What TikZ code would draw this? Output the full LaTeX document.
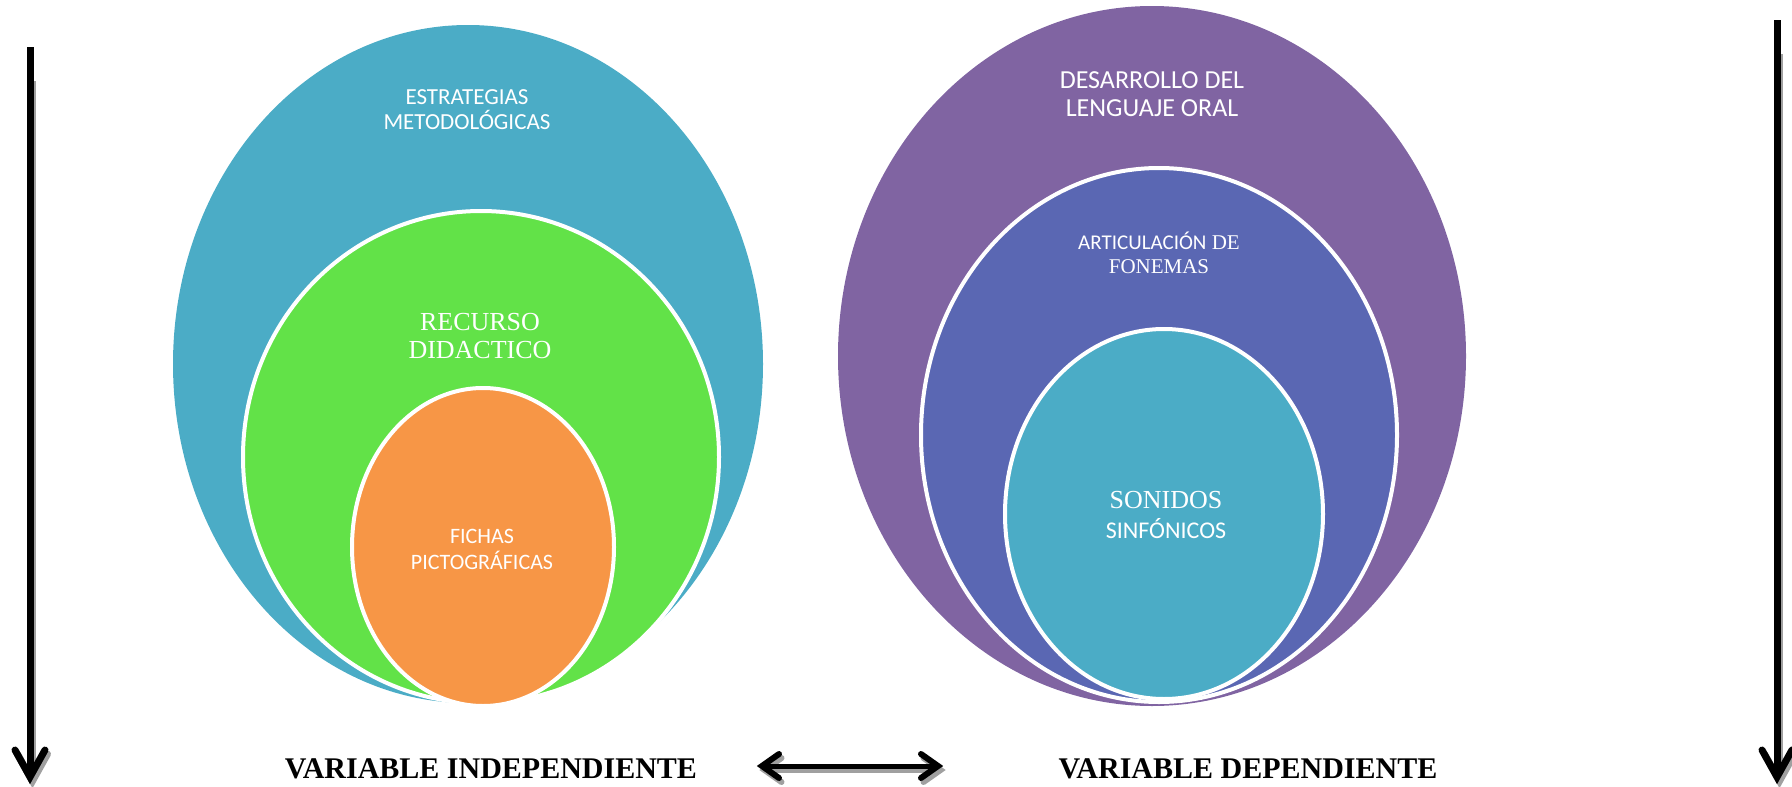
\documentclass[tikz,border=0pt]{standalone}
\usepackage{fontspec}
\setmainfont{Liberation Serif}
\newfontfamily\calib{Carlito}
\newfontfamily\tnr{Liberation Serif}
\usetikzlibrary{shapes.geometric,calc}
\definecolor{cBlue}{HTML}{4BACC6}
\definecolor{cGreen}{HTML}{62E248}
\definecolor{cOrange}{HTML}{F79646}
\definecolor{cPurple}{HTML}{8064A2}
\definecolor{cIndigo}{HTML}{5A67B3}
\definecolor{cShadow}{HTML}{A0A0A0}
\begin{document}
\begin{tikzpicture}[x=1pt,y=-1pt,
  outerblob/.style={ellipse, inner sep=0pt, draw=none},
  innerblob/.style={ellipse, inner sep=0pt, draw=white, line width=4pt},
  lbl/.style={text=white, align=center, inner sep=0pt},
  varlbl/.style={inner sep=0pt, font=\tnr\bfseries\fontsize{30}{32}\selectfont},
  shaft/.style={line width=7pt},
  head/.style={line width=7pt, line join=miter, line cap=round},
  dshaft/.style={line width=5pt},
  dhead/.style={line width=6pt, line join=miter, line cap=round}
]
\useasboundingbox (0,0) rectangle (1792,787);

% ---------- left group ----------
\node[outerblob, fill=cBlue, minimum width=590pt, minimum height=678pt] (em) at (468,364) {};
\node[innerblob, fill=cGreen, minimum width=476pt, minimum height=492pt] (rd) at (481,457) {};
\node[innerblob, fill=cOrange, minimum width=262pt, minimum height=318pt] (fp) at (483,547) {};

\node[lbl, font=\calib\fontsize{23}{25}\selectfont] (tem) at (467,110) {ESTRATEGIAS\\METODOLÓGICAS};
\node[lbl, font=\tnr\fontsize{26}{28}\selectfont] (trd) at (480,336) {RECURSO\\DIDACTICO};
\node[lbl, font=\calib\fontsize{22}{26}\selectfont] (tfp) at (482,549) {FICHAS\\PICTOGRÁFICAS};

% ---------- right group ----------
\node[outerblob, fill=cPurple, minimum width=628pt, minimum height=700pt] (dl) at (1152,356) {};
\node[innerblob, fill=cIndigo, minimum width=476pt, minimum height=534pt] (af) at (1159,435) {};
\node[innerblob, fill=cBlue, minimum width=318pt, minimum height=370pt] (ss) at (1164,514) {};

\node[lbl, font=\calib\fontsize{26}{28}\selectfont] (tdl) at (1152,94) {DESARROLLO DEL\\LENGUAJE ORAL};
\node[lbl, font=\fontsize{21}{24}\selectfont] (taf) at (1159,253) {{\calib ARTICULACIÓN} {\tnr DE}\\{\tnr FONEMAS}};
\node[lbl, font=\fontsize{26}{30}\selectfont] (tss) at (1166,515) {{\tnr SONIDOS}\\{\calib\fontsize{24}{30}\selectfont SINFÓNICOS}};

% ---------- bottom labels ----------
\node[varlbl] (vi) at (491,769) {VARIABLE INDEPENDIENTE};
\node[varlbl] (vd) at (1248,769) {VARIABLE DEPENDIENTE};

% ---------- arrows ----------
\coordinate (la1) at (30,47);
\coordinate (la2) at (30,777);
\coordinate (ra1) at (1777,20);
\coordinate (ra2) at (1777,777);
\coordinate (da1) at (762,766);
\coordinate (da2) at (938,766);

% shadows
\begin{scope}[transform canvas={xshift=2.5pt, yshift=-4pt}]
  \draw[shaft, cShadow] ($(la1)+(0,30)$) -- ($(la2)+(0,-4)$);
  \draw[head, cShadow] ($(la2)+(-15,-27)$) -- (la2) -- ($(la2)+(15,-27)$);
  \draw[shaft, cShadow] ($(ra1)+(0,30)$) -- ($(ra2)+(0,-4)$);
  \draw[head, cShadow] ($(ra2)+(-15,-27)$) -- (ra2) -- ($(ra2)+(15,-27)$);
  \draw[dshaft, cShadow] ($(da1)+(4,0)$) -- ($(da2)+(-4,0)$);
  \draw[dhead, cShadow] ($(da1)+(17,-12)$) -- (da1) -- ($(da1)+(17,12)$);
  \draw[dhead, cShadow] ($(da2)+(-17,-12)$) -- (da2) -- ($(da2)+(-17,12)$);
\end{scope}
% black arrows
\draw[shaft] (la1) -- ($(la2)+(0,-4)$);
\draw[head] ($(la2)+(-15,-27)$) -- (la2) -- ($(la2)+(15,-27)$);
\draw[shaft] (ra1) -- ($(ra2)+(0,-4)$);
\draw[head] ($(ra2)+(-15,-27)$) -- (ra2) -- ($(ra2)+(15,-27)$);
\draw[dshaft] ($(da1)+(4,0)$) -- ($(da2)+(-4,0)$);
\draw[dhead] ($(da1)+(17,-12)$) -- (da1) -- ($(da1)+(17,12)$);
\draw[dhead] ($(da2)+(-17,-12)$) -- (da2) -- ($(da2)+(-17,12)$);
\end{tikzpicture}
\end{document}
